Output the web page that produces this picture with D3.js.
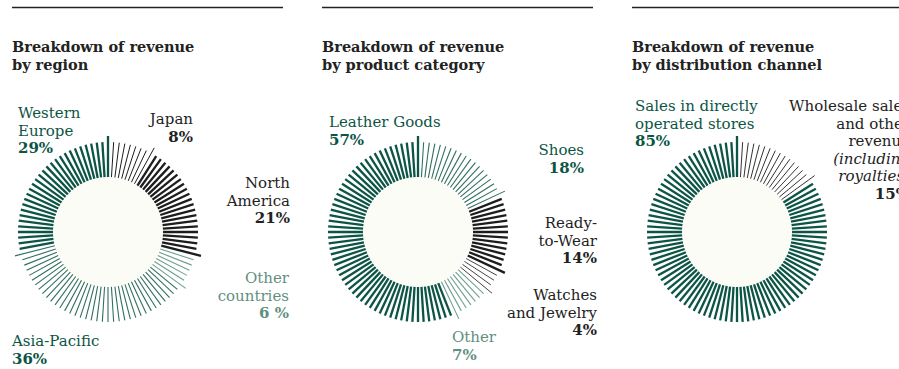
<!DOCTYPE html>
<html>
<head>
<meta charset="utf-8">
<script src="https://cdn.jsdelivr.net/npm/d3@7"></script>
<style>
  html, body { margin: 0; padding: 0; background: #ffffff; overflow: hidden; }
  svg { display: block; }
  text { font-family: "DejaVu Serif", "Liberation Serif", serif; }
</style>
</head>
<body>
<svg id="chart" width="899" height="369"></svg>
<script>
// ---- Data ---------------------------------------------------------------
// Each panel lists its segments clockwise from 12 o'clock.
const regionCategories = ["Japan", "North America", "Other countries", "Asia-Pacific", "Western Europe"];
const regionValues     = [8, 21, 6, 36, 29];
const regionPctLabels  = ["8%", "21%", "6 %", "36%", "29%"];

const productCategories = ["Shoes", "Ready-to-Wear", "Watches and Jewelry", "Other", "Leather Goods"];
const productValues     = [18, 14, 4, 7, 57];
const productPctLabels  = ["18%", "14%", "4%", "7%", "57%"];

const channelCategories = ["Wholesale sales and other revenue (including royalties)", "Sales in directly operated stores"];
const channelValues     = [15, 85];
const channelPctLabels  = ["15%", "85%"];

const panelTitles = [
  ["Breakdown of revenue", "by region"],
  ["Breakdown of revenue", "by product category"],
  ["Breakdown of revenue", "by distribution channel"]
];

// ---- Styles -------------------------------------------------------------
const C = {
  dark:  "#0c5545",
  black: "#1d1d1d",
  light: "#6e9d8e",
  ink:   "#222222"
};
// stroke style of each segment: colour + thick/thin
const segStyle = {
  "Japan":            { color: C.black, w: 1.0, label: C.ink },
  "North America":    { color: C.black, w: 2.3, label: C.ink },
  "Other countries":  { color: C.light, w: 1.1, label: "#5f8f80" },
  "Asia-Pacific":     { color: "#2f6e5e", w: 1.1, label: C.dark },
  "Western Europe":   { color: C.dark,  w: 2.3, label: C.dark },
  "Shoes":            { color: "#2f6e5e", w: 1.1, label: C.dark },
  "Ready-to-Wear":    { color: C.black, w: 2.3, label: C.ink },
  "Watches and Jewelry": { color: "#444", w: 1.0, label: C.ink },
  "Other":            { color: C.light, w: 1.1, label: "#5f8f80" },
  "Leather Goods":    { color: C.dark,  w: 2.3, label: C.dark },
  "Wholesale sales and other revenue (including royalties)": { color: "#333", w: 1.0, label: C.ink },
  "Sales in directly operated stores": { color: C.dark, w: 2.3, label: C.dark }
};

// label layout: text lines, anchor, position relative to the panel's left edge
const labelLayout = {
  "Japan":           { lines: ["Japan"], anchor: "end", x: 181, y: 124 },
  "North America":   { lines: ["North", "America"], anchor: "end", x: 278, y: 188 },
  "Other countries": { lines: ["Other", "countries"], anchor: "end", x: 277, y: 283 },
  "Asia-Pacific":    { lines: ["Asia-Pacific"], anchor: "start", x: 0, y: 346 },
  "Western Europe":  { lines: ["Western", "Europe"], anchor: "start", x: 6, y: 118 },
  "Shoes":           { lines: ["Shoes"], anchor: "end", x: 262, y: 155 },
  "Ready-to-Wear":   { lines: ["Ready-", "to-Wear"], anchor: "end", x: 275, y: 228 },
  "Watches and Jewelry": { lines: ["Watches", "and Jewelry"], anchor: "end", x: 275, y: 300 },
  "Other":           { lines: ["Other"], anchor: "start", x: 130, y: 342 },
  "Leather Goods":   { lines: ["Leather Goods"], anchor: "start", x: 7, y: 127 },
  "Wholesale sales and other revenue (including royalties)":
                     { lines: ["Wholesale sales", "and other", "revenue", "(including", "royalties)"], italicFrom: 3, anchor: "end", x: 278, y: 111 },
  "Sales in directly operated stores":
                     { lines: ["Sales in directly", "operated stores"], anchor: "start", x: 3, y: 111 }
};

const panels = [
  { left: 12,  cx: 96,  cats: regionCategories,  vals: regionValues,  pct: regionPctLabels },
  { left: 322, cx: 96,  cats: productCategories, vals: productValues, pct: productPctLabels },
  { left: 632, cx: 105, cats: channelCategories, vals: channelValues, pct: channelPctLabels }
];

const ruleWidth = 271;
const cy = 232;
const innerR = 55, outerR = 90, longR = 96;
const lineH = 17.5;

const svg = d3.select("#chart");

// one tick per percentage point around the full circle
const angle = d3.scaleLinear().domain([0, 100]).range([0, 2 * Math.PI]);
const pie = d3.pie().sort(null).value(d => d.value);

panels.forEach((p, pi) => {
  const g = svg.append("g").attr("transform", `translate(${p.left},0)`);

  // top rule
  g.append("line")
    .attr("x1", 0).attr("x2", ruleWidth)
    .attr("y1", 7.5).attr("y2", 7.5)
    .attr("stroke", "#222").attr("stroke-width", 1.4);

  // title
  g.append("text")
    .attr("x", 0).attr("y", 52)
    .attr("font-size", 14.5).attr("font-weight", "bold").attr("fill", C.ink)
    .selectAll("tspan").data(panelTitles[pi]).join("tspan")
    .attr("x", 0).attr("dy", (d, i) => i === 0 ? 0 : 18)
    .text(d => d);

  const data = p.cats.map((c, i) => ({ key: c, value: p.vals[i], pct: p.pct[i] }));
  const arcs = pie(data);
  const total = d3.sum(p.vals);
  const pctScale = d3.scaleLinear().domain([0, 2 * Math.PI]).range([0, total]);

  const donut = g.append("g").attr("transform", `translate(${p.cx},${cy})`);

  donut.append("circle").attr("r", innerR).attr("fill", "#fbfcf6");

  // build ticks from each arc's percentage range
  const ticks = [];
  arcs.forEach(a => {
    const start = Math.round(pctScale(a.startAngle));
    const end = Math.round(pctScale(a.endAngle));
    for (let k = start + 1; k <= end; k++) {
      ticks.push({ k, key: a.data.key, long: k === end });
    }
  });

  donut.selectAll("line.tick").data(ticks).join("line")
    .attr("class", "tick")
    .attr("x1", d => innerR * Math.sin(angle(d.k)))
    .attr("y1", d => -innerR * Math.cos(angle(d.k)))
    .attr("x2", d => (d.long ? longR : outerR) * Math.sin(angle(d.k)))
    .attr("y2", d => -(d.long ? longR : outerR) * Math.cos(angle(d.k)))
    .attr("stroke", d => segStyle[d.key].color)
    .attr("stroke-width", d => segStyle[d.key].w);

  // labels
  data.forEach(d => {
    const L = labelLayout[d.key];
    const t = g.append("text")
      .attr("x", L.x).attr("y", L.y)
      .attr("text-anchor", L.anchor)
      .attr("font-size", 15)
      .attr("fill", segStyle[d.key].label);
    L.lines.forEach((ln, i) => {
      t.append("tspan").attr("x", L.x).attr("dy", i === 0 ? 0 : lineH)
        .attr("font-style", L.italicFrom !== undefined && i >= L.italicFrom ? "italic" : null)
        .text(ln);
    });
    t.append("tspan").attr("x", L.x).attr("dy", lineH)
      .attr("font-weight", "bold").text(d.pct);
  });
});
</script>
</body>
</html>
